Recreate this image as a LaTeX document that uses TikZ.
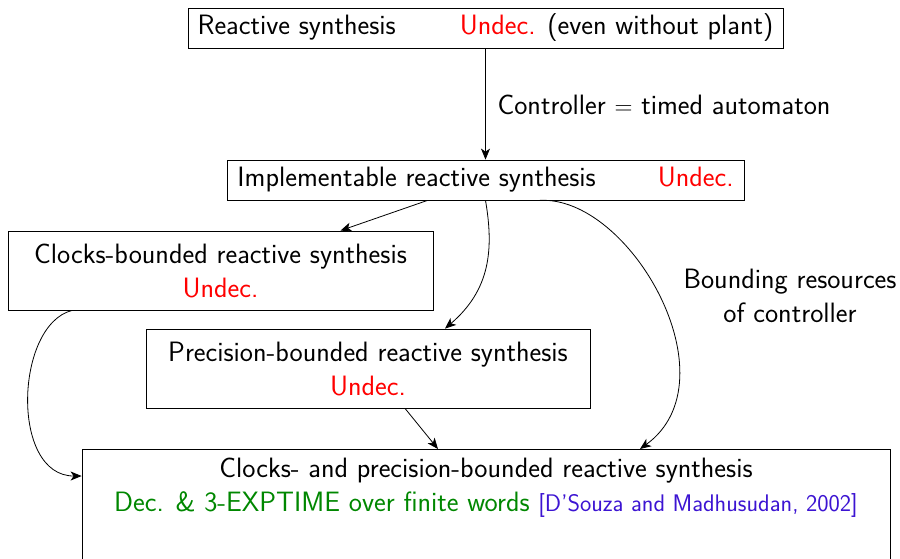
\documentclass[tikz,border=0pt]{standalone}
\usetikzlibrary{arrows.meta}
\definecolor{dgreen}{RGB}{0,135,0}
\definecolor{citec}{RGB}{60,20,210}
\begin{document}
\begin{tikzpicture}[x=1pt,y=-1pt,
  font=\sffamily\fontsize{28}{34}\selectfont,
  box/.style={draw, line width=0.8pt, inner sep=0pt, align=center},
  conn/.style={-{Stealth[length=11pt,width=9pt,inset=3pt]}, line width=0.8pt}]
\useasboundingbox (0,0) rectangle (900,558);
\clip (0,0) rectangle (900,558);
\node[box, minimum width=595pt, minimum height=40pt] (top) at (485.5,28)
  {Reactive synthesis\hspace{64pt}\textcolor{red}{Undec.} (even without plant)};
\node[box, minimum width=517pt, minimum height=40pt] (impl) at (485.5,180)
  {Implementable reactive synthesis\hspace{62pt}\textcolor{red}{Undec.}};
\node[box, minimum width=425pt, minimum height=79pt] (clk) at (220.5,270.5)
  {Clocks-bounded reactive synthesis\\\textcolor{red}{Undec.}};
\node[box, minimum width=444pt, minimum height=79pt] (prec) at (368,368.5)
  {Precision-bounded reactive synthesis\\\textcolor{red}{Undec.}};
\node[box, minimum width=808pt, minimum height=140pt, anchor=north] (bot) at (486,449) {};
\node[align=center, anchor=north, inner sep=0pt] (bottxt) at (486,458)
  {Clocks- and precision-bounded reactive synthesis\\
   \textcolor{dgreen}{Dec. \& 3-EXPTIME over finite words}
   {\fontsize{24}{28}\selectfont\textcolor{citec}{[D'Souza and Madhusudan, 2002]}}};
\node (lab) at (664,105) {Controller $=$ timed automaton};
\node[align=center] (res) at (790,296) {Bounding resources\\of controller};
\draw[conn] (top.south) -- (impl.north);
\draw[conn] ([xshift=-58pt]impl.south) -- ([xshift=120pt]clk.north);
\draw[conn] (impl.south) .. controls (494,250) and (490,290) .. ([xshift=77pt]prec.north);
\draw[conn] ([xshift=54pt]impl.south) .. controls (630,195) and (735,380) .. ([xshift=154pt]bot.north);
\draw[conn] ([xshift=37pt]prec.south) -- ([xshift=-48pt]bot.north);
\draw[conn] ([xshift=-148.5pt]clk.south) .. controls (15,325) and (10,476) .. ([yshift=-27pt]bot.north west);
\end{tikzpicture}
\end{document}
